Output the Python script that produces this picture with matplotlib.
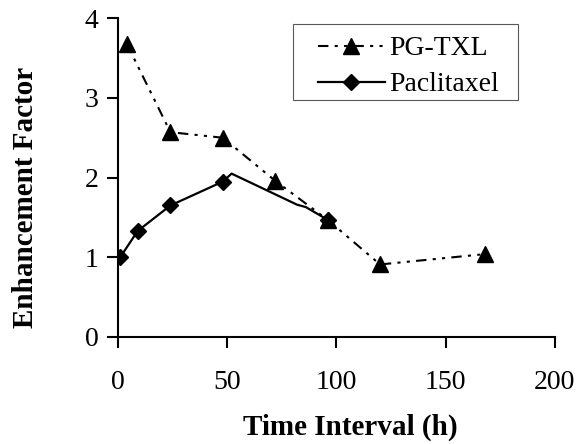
import numpy as np
import matplotlib.pyplot as plt
from matplotlib.patches import Rectangle

# Data
pg_time = [4, 24, 48, 72, 96, 120, 168]
pg_ef = [3.68, 2.57, 2.50, 1.96, 1.47, 0.91, 1.04]

# paclitaxel curve; last points between 48 and 96 h carry no marker
ptx_time = [1, 9, 24, 48, 52, 82, 86, 96]
ptx_ef = [1.00, 1.33, 1.65, 1.95, 2.05, 1.66, 1.63, 1.47]
ptx_marked = [0, 1, 2, 3, 7]

x_ticks = [0, 50, 100, 150, 200]
y_ticks = [0, 1, 2, 3, 4]

plt.rcParams['font.family'] = ['Liberation Serif', 'DejaVu Serif']

W, H = 577, 444
fig = plt.figure(figsize=(W / 100, H / 100), dpi=100)
ax = fig.add_axes([0.2045, 0.241, 0.757, 0.718])

ax.plot(pg_time, pg_ef, color='black', linestyle=(0, (5, 3, 1.5, 3, 1.5, 3)),
        linewidth=1.5, marker='^', markersize=11, label='PG-TXL')
ax.plot(ptx_time, ptx_ef, color='black', linestyle='-', linewidth=1.6,
        marker='D', markersize=8.5, markevery=ptx_marked, label='Paclitaxel')

ax.set_xlim(0, 200)
ax.set_ylim(0, 4)
ax.set_xticks(x_ticks)
ax.set_yticks(y_ticks)
for side in ['top', 'right']:
    ax.spines[side].set_visible(False)
for side in ['left', 'bottom']:
    ax.spines[side].set_linewidth(1.5)

ax.tick_params(axis='x', direction='out', length=8, width=1.5, pad=16, labelsize=20)
ax.tick_params(axis='y', direction='out', length=8, width=1.5, pad=6, labelsize=20)

ax.set_xlabel('Time Interval (h)', fontsize=21, fontweight='bold')
ax.set_ylabel('Enhancement Factor', fontsize=21, fontweight='bold')
ax.xaxis.set_label_coords(0.531, -0.24)
ax.yaxis.set_label_coords(-0.182, 0.437)

# legend without its own frame; box drawn separately for wider side padding
ax.legend(loc='upper left', bbox_to_anchor=(318 / W, 1 - 36 / H),
          bbox_transform=fig.transFigure, fontsize=20, frameon=False,
          handlelength=2.4, handletextpad=0.18, borderpad=0,
          labelspacing=0.38, borderaxespad=0)
fig.patches.append(Rectangle((293 / W, 1 - 100 / H), 225 / W, 76 / H,
                             transform=fig.transFigure, fill=False,
                             edgecolor='0.35', linewidth=0.8))

fig.savefig('out.png', dpi=100)
